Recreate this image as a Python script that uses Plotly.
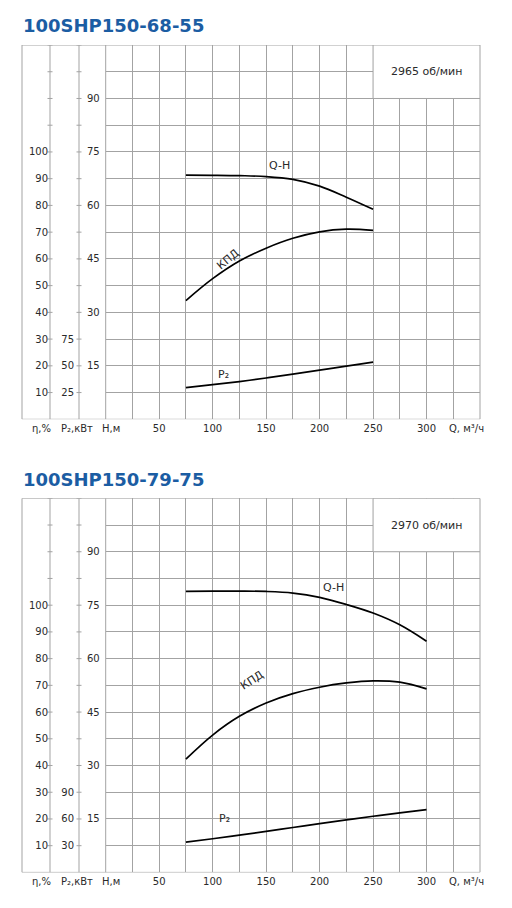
import plotly.graph_objects as go

# ---------------- data ----------------
TITLE_A = "100SHP150-68-55"
TITLE_B = "100SHP150-79-75"
RPM_A = "2965 об/мин"
RPM_B = "2970 об/мин"

Q_A = [75, 100, 125, 150, 175, 200, 225, 250]
H_A = [68.5, 68.45, 68.35, 68.1, 67.3, 65.4, 62.3, 58.9]
ETA_A = [44.4, 52.6, 59.2, 64.0, 67.7, 70.1, 71.1, 70.7]
P_A = [29.6, 32.4, 35.3, 38.6, 42.2, 46.0, 49.8, 53.4]

Q_B = [75, 100, 125, 150, 175, 200, 225, 250, 275, 300]
H_B = [78.9, 78.95, 78.95, 78.85, 78.4, 77.2, 75.2, 72.8, 69.5, 64.9]
ETA_B = [42.4, 51.4, 58.4, 63.4, 66.9, 69.3, 70.9, 71.7, 71.2, 68.7]
P_B = [34.0, 37.8, 41.8, 46.0, 50.4, 54.8, 59.0, 63.0, 66.9, 70.5]

Q_LABELS = [50, 100, 150, 200, 250, 300]
H_LABELS = [15, 30, 45, 60, 75, 90]
ETA_LABELS = [10, 20, 30, 40, 50, 60, 70, 80, 90, 100]
P_LABELS_A = [25, 50, 75]
P_LABELS_B = [30, 60, 90]

AXIS_NAMES = ["η,%", "P₂,кВт", "H,м", "Q, м³/ч"]

# ---------------- styling / layout constants ----------------
W, HGT = 512, 908
GRID = "#a3a3a3"
TXT = "#2a2a2a"
BLUE = "#1b5da3"
FONT = "DejaVu Sans"

Q_MAX, H_MAX = 350, 105
Q_STEP, H_STEP = 25, 7.5
h_grid = [i * H_STEP for i in range(int(H_MAX / H_STEP) + 1)]

def px(x):
    return x / W

def py(y):
    return 1 - y / HGT

XD = [px(105.7), px(480)]
NAME_X = [41, 77, 111, 466]
charts = [
    dict(title=TITLE_A, rpm=RPM_A, Q=Q_A, H=H_A, E=ETA_A, P=P_A, plab=P_LABELS_A, pmax=350,
         top=45.0, bot=419.3, n=1, title_y=25, qh=(279, 165), kpd=(228, 244, -40), p2=(223, 375)),
    dict(title=TITLE_B, rpm=RPM_B, Q=Q_B, H=H_B, E=ETA_B, P=P_B, plab=P_LABELS_B, pmax=420,
         top=498.3, bot=872.4, n=2, title_y=479, qh=(333, 587), kpd=(252, 696, -33), p2=(224, 827)),
]

def ax_name(kind, i):
    return kind if i == 1 else "%s%d" % (kind, i)

fig = go.Figure()
shapes, annos = [], []
line_style = dict(color="black", width=1.7, shape="spline", smoothing=1.0)
tickfont = dict(family=FONT, size=10, color=TXT)

for c in charts:
    n = c["n"]
    xa = ax_name("x", n)          # Q axis
    ya = ax_name("y", n)          # H axis
    ye = ax_name("y", n + 2)      # eta axis
    yp = ax_name("y", n + 4)      # P axis
    yt = ax_name("y", n + 6)      # small ticks on H axis
    xt = ax_name("x", n + 2)      # small ticks on Q axis

    fig.add_trace(go.Scatter(x=c["Q"], y=c["H"], mode="lines", line=line_style,
                             xaxis=xa, yaxis=ya, showlegend=False, hoverinfo="skip"))
    fig.add_trace(go.Scatter(x=c["Q"], y=c["E"], mode="lines", line=line_style,
                             xaxis=xa, yaxis=ye, showlegend=False, hoverinfo="skip"))
    fig.add_trace(go.Scatter(x=c["Q"], y=c["P"], mode="lines", line=line_style,
                             xaxis=xa, yaxis=yp, showlegend=False, hoverinfo="skip"))

    yd = [py(c["bot"]), py(c["top"])]
    lay = lambda a: ("xaxis" if a[0] == "x" else "yaxis") + a[1:]

    fig.layout[lay(xa)] = dict(
        domain=XD, range=[0, Q_MAX], anchor=ya,
        tickmode="array", tickvals=Q_LABELS,
        showgrid=True, gridcolor=GRID, gridwidth=1, zeroline=False, showline=False,
        ticks="", tickfont=tickfont, ticklabelstandoff=2,
        minor=dict(dtick=Q_STEP, showgrid=True, gridcolor=GRID, gridwidth=1, ticks=""),
        fixedrange=True,
    )
    fig.layout[lay(xt)] = dict(
        overlaying=xa, anchor=ya, range=[0, Q_MAX], dtick=5, ticks="inside", ticklen=3,
        tickcolor=GRID, tickwidth=1, showticklabels=False, showgrid=False, zeroline=False,
        showline=False, fixedrange=True,
    )
    fig.layout[lay(ya)] = dict(
        domain=yd, range=[0, H_MAX], anchor=xa,
        tickmode="array", tickvals=H_LABELS,
        showgrid=True, gridcolor=GRID, gridwidth=1, zeroline=False, showline=False,
        ticks="", tickfont=tickfont, ticklabelstandoff=5,
        minor=dict(dtick=H_STEP, showgrid=True, gridcolor=GRID, gridwidth=1, ticks=""),
        fixedrange=True,
    )
    fig.layout[lay(yt)] = dict(
        overlaying=ya, anchor=xa, range=[0, H_MAX], dtick=1.5, ticks="inside", ticklen=4,
        tickcolor=GRID, tickwidth=1, showticklabels=False, showgrid=False, zeroline=False,
        showline=False, fixedrange=True,
    )
    fig.layout[lay(ye)] = dict(
        overlaying=ya, anchor="free", position=px(50), side="left",
        range=[0, 140], tickmode="array", tickvals=ETA_LABELS,
        showgrid=False, zeroline=False, showline=False, ticks="",
        tickfont=tickfont, ticklabelstandoff=2, fixedrange=True,
    )
    fig.layout[lay(yp)] = dict(
        overlaying=ya, anchor="free", position=px(79), side="left",
        range=[0, c["pmax"]], tickmode="array", tickvals=c["plab"],
        showgrid=False, zeroline=False, showline=False, ticks="",
        tickfont=tickfont, ticklabelstandoff=5, fixedrange=True,
    )

    gl = dict(color=GRID, width=1)
    # outer frame and column lines
    shapes.append(dict(type="rect", xref="paper", yref=ya, x0=px(22), x1=px(480),
                       y0=0, y1=H_MAX, line=gl, layer="below"))
    for xv in (50, 79, 105.7):
        shapes.append(dict(type="line", xref="paper", yref=ya, x0=px(xv), x1=px(xv),
                           y0=0, y1=H_MAX, line=gl, layer="below"))
    # small cross ticks on the eta / P column lines
    for hv in h_grid[1:]:
        for xv in (50, 79):
            shapes.append(dict(type="line", xref="paper", yref=ya, x0=px(xv - 2.5), x1=px(xv + 2.5),
                               y0=hv, y1=hv, line=gl, layer="below"))
    # rpm box
    shapes.append(dict(type="rect", xref=xa, yref=ya, x0=250, x1=Q_MAX, y0=90, y1=H_MAX,
                       fillcolor="white", line=gl, layer="above"))
    annos.append(dict(xref=xa, yref=ya, x=300, y=97.5, text=c["rpm"], showarrow=False,
                      font=dict(family=FONT, size=11, color=TXT)))
    # title
    annos.append(dict(xref="paper", yref="paper", x=px(21), y=py(c["title_y"]), xanchor="left",
                      yanchor="middle", text="<b>%s</b>" % c["title"], showarrow=False,
                      font=dict(family=FONT, size=18, color=BLUE)))
    # axis names
    ly = py(c["bot"] + 9.5)
    for txt, xv in zip(AXIS_NAMES, NAME_X):
        annos.append(dict(xref="paper", yref="paper", x=px(xv), y=ly, text=txt, showarrow=False,
                          xanchor="center", yanchor="middle",
                          font=dict(family=FONT, size=10, color=TXT)))
    # curve labels
    cf = dict(family=FONT, size=11, color=TXT)
    annos.append(dict(xref="paper", yref="paper", x=px(c["qh"][0]), y=py(c["qh"][1]), text="Q-H",
                      showarrow=False, font=cf, yanchor="middle"))
    annos.append(dict(xref="paper", yref="paper", x=px(c["kpd"][0]), y=py(c["kpd"][1]), text="КПД",
                      showarrow=False, textangle=c["kpd"][2], font=cf))
    annos.append(dict(xref="paper", yref="paper", x=px(c["p2"][0]), y=py(c["p2"][1]),
                      text="P₂", showarrow=False, font=cf))

fig.update_layout(
    width=W, height=HGT, margin=dict(l=0, r=0, t=0, b=0),
    paper_bgcolor="white", plot_bgcolor="white",
    shapes=shapes, annotations=annos, showlegend=False,
)

fig.write_html("out.html", config={"displayModeBar": False})
